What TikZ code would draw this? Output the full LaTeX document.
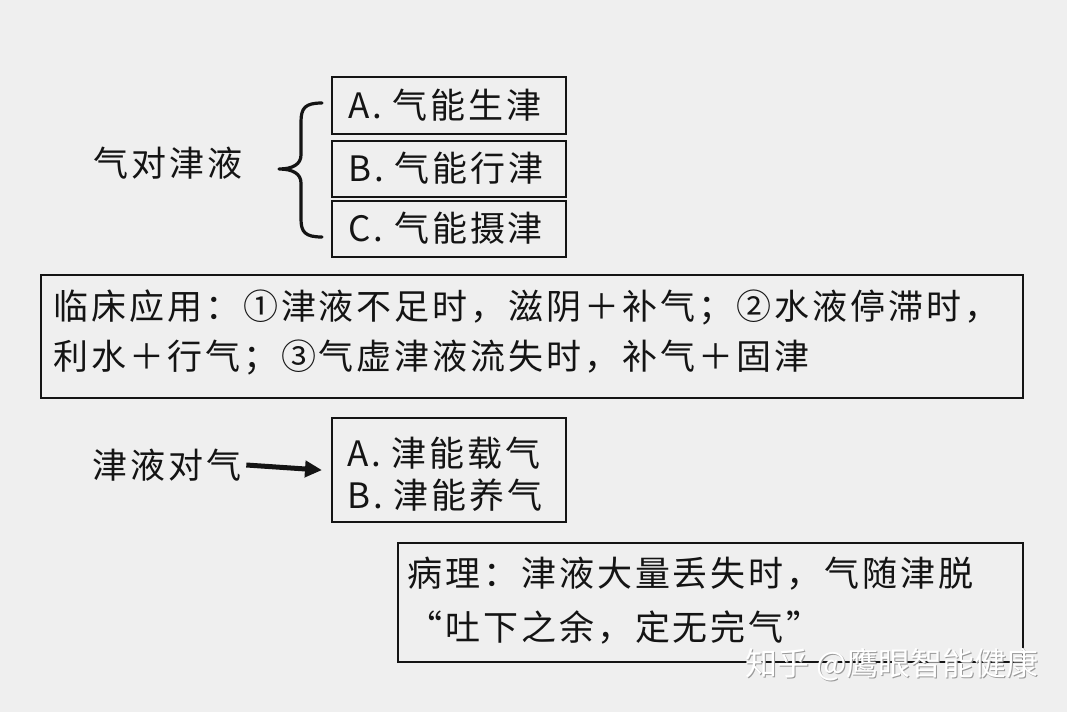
\documentclass[tikz,border=0pt]{standalone}
\usepackage{fontspec}
\newfontfamily\cjk[LetterSpace=8.5]{Noto Sans CJK SC}
\newfontfamily\wmfont{Noto Sans CJK SC}
\usetikzlibrary{arrows.meta}
\definecolor{bg}{HTML}{EFEFEF}
\definecolor{ink}{HTML}{141414}
\tikzset{
 box/.style={draw=ink, line width=2.2pt, fill=bg, inner sep=0pt, anchor=north west},
 txt/.style={anchor=west, inner sep=0pt, font=\cjk\fontsize{35}{40}\selectfont, text=ink},
 brace/.style={draw=ink, line width=3.2pt, line cap=round, line join=round},
 arrow/.style={draw=ink, line width=5pt, -{Triangle[length=17pt,width=16pt]}},
}
\begin{document}
\begin{tikzpicture}[x=1pt,y=-1pt]
\fill[bg] (0,0) rectangle (1067,712);
\useasboundingbox (0,0) rectangle (1067,712);

% top group
\node[txt] (t1) at (93,163) {气对津液};
\node[box, minimum width=234pt, minimum height=57pt] (bA) at (331,76) {};
\node[box, minimum width=234pt, minimum height=56pt] (bB) at (331,140) {};
\node[box, minimum width=234pt, minimum height=56pt] (bC) at (331,200) {};
\node[txt] (tA) at (348,105) {A. 气能生津};
\node[txt] (tB) at (348,168) {B. 气能行津};
\node[txt] (tC) at (348,228) {C. 气能摄津};
\draw[brace] (322,103) .. controls (305,103) and (301,108) .. (301,122)
  -- (301,155) .. controls (301,164) and (293,169) .. (279,169)
  .. controls (293,169) and (301,174) .. (301,183)
  -- (301,219) .. controls (301,232) and (305,237) .. (322,237);

% clinical application
\node[box, minimum width=982pt, minimum height=123pt] (bK) at (40,274) {};
\node[txt] (k1) at (53,307) {临床应用：①津液不足时，滋阴＋补气；②水液停滞时，};
\node[txt] (k2) at (53,358) {利水＋行气；③气虚津液流失时，补气＋固津};

% second group
\node[txt] (t2) at (92,465) {津液对气};
\node[box, minimum width=234pt, minimum height=104pt] (bD) at (331,417) {};
\node[txt] (tD1) at (347,453) {A. 津能载气};
\node[txt] (tD2) at (347,495) {B. 津能养气};
\draw[arrow] ([xshift=5pt]t2.east) -- ([xshift=-9pt]bD.west);

% pathology
\node[box, minimum width=625pt, minimum height=119pt] (bP) at (397,542) {};
\node[txt] (p1) at (407,574) {病理：津液大量丢失时，气随津脱};
\node[txt] (p2) at (407,627) {“吐下之余，定无完气”};

% watermark
\node[anchor=west, inner sep=0pt, font=\wmfont\fontsize{32}{36}\selectfont, text=black!40] (wms) at (746,666) {知乎 @鹰眼智能健康};
\node[anchor=west, inner sep=0pt, font=\wmfont\fontsize{32}{36}\selectfont, text=white] (wm) at (745,665) {知乎 @鹰眼智能健康};
\end{tikzpicture}
\end{document}
